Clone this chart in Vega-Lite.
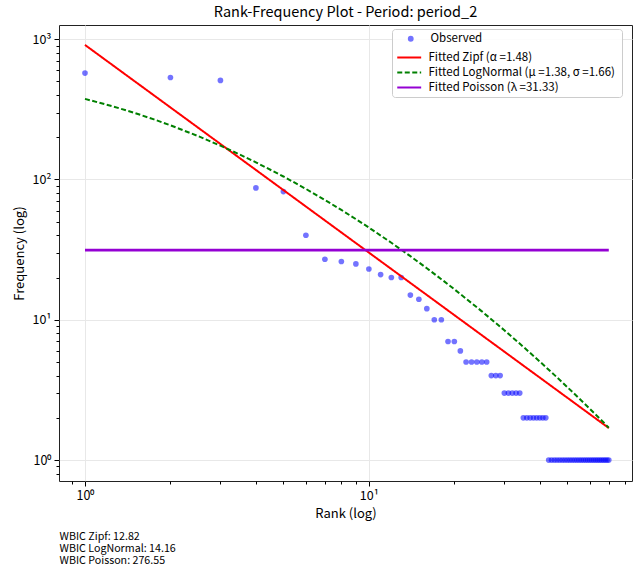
{
  "$schema": "https://vega.github.io/schema/vega-lite/v6.json",
  "autosize": {"type": "none"},
  "padding": {"left": 59, "top": 25, "right": 6, "bottom": 95},
  "width": 573,
  "height": 456,
  "background": "white",
  "config": {
    "font": "Noto Sans CJK JP",
    "view": {"stroke": "#222", "strokeWidth": 1},
    "axis": {"labelColor": "#000", "titleColor": "#000", "tickColor": "#000", "labelFontWeight": "normal", "titleFontWeight": "normal"},
    "legend": {"padding": 4, "labelFontSize": 11.5, "labelColor": "#000", "rowPadding": 0, "labelLimit": 400, "cornerRadius": 3}
  },
  "title": {
    "text": "Rank-Frequency Plot - Period: period_2",
    "anchor": "middle", "frame": "group", "fontSize": 14.5, "fontWeight": "normal", "color": "#000", "offset": 5
  },
  "datasets": {
    "observed": [
      {"rank": 1, "freq": 573, "series": "Observed"},
      {"rank": 2, "freq": 533, "series": "Observed"},
      {"rank": 3, "freq": 508, "series": "Observed"},
      {"rank": 4, "freq": 87, "series": "Observed"},
      {"rank": 5, "freq": 82, "series": "Observed"},
      {"rank": 6, "freq": 40, "series": "Observed"},
      {"rank": 7, "freq": 27, "series": "Observed"},
      {"rank": 8, "freq": 26, "series": "Observed"},
      {"rank": 9, "freq": 25, "series": "Observed"},
      {"rank": 10, "freq": 23, "series": "Observed"},
      {"rank": 11, "freq": 21, "series": "Observed"},
      {"rank": 12, "freq": 20, "series": "Observed"},
      {"rank": 13, "freq": 20, "series": "Observed"},
      {"rank": 14, "freq": 15, "series": "Observed"},
      {"rank": 15, "freq": 14, "series": "Observed"},
      {"rank": 16, "freq": 12, "series": "Observed"},
      {"rank": 17, "freq": 10, "series": "Observed"},
      {"rank": 18, "freq": 10, "series": "Observed"},
      {"rank": 19, "freq": 7, "series": "Observed"},
      {"rank": 20, "freq": 7, "series": "Observed"},
      {"rank": 21, "freq": 6, "series": "Observed"},
      {"rank": 22, "freq": 5, "series": "Observed"},
      {"rank": 23, "freq": 5, "series": "Observed"},
      {"rank": 24, "freq": 5, "series": "Observed"},
      {"rank": 25, "freq": 5, "series": "Observed"},
      {"rank": 26, "freq": 5, "series": "Observed"},
      {"rank": 27, "freq": 4, "series": "Observed"},
      {"rank": 28, "freq": 4, "series": "Observed"},
      {"rank": 29, "freq": 4, "series": "Observed"},
      {"rank": 30, "freq": 3, "series": "Observed"},
      {"rank": 31, "freq": 3, "series": "Observed"},
      {"rank": 32, "freq": 3, "series": "Observed"},
      {"rank": 33, "freq": 3, "series": "Observed"},
      {"rank": 34, "freq": 3, "series": "Observed"},
      {"rank": 35, "freq": 2, "series": "Observed"},
      {"rank": 36, "freq": 2, "series": "Observed"},
      {"rank": 37, "freq": 2, "series": "Observed"},
      {"rank": 38, "freq": 2, "series": "Observed"},
      {"rank": 39, "freq": 2, "series": "Observed"},
      {"rank": 40, "freq": 2, "series": "Observed"},
      {"rank": 41, "freq": 2, "series": "Observed"},
      {"rank": 42, "freq": 2, "series": "Observed"},
      {"rank": 43, "freq": 1, "series": "Observed"},
      {"rank": 44, "freq": 1, "series": "Observed"},
      {"rank": 45, "freq": 1, "series": "Observed"},
      {"rank": 46, "freq": 1, "series": "Observed"},
      {"rank": 47, "freq": 1, "series": "Observed"},
      {"rank": 48, "freq": 1, "series": "Observed"},
      {"rank": 49, "freq": 1, "series": "Observed"},
      {"rank": 50, "freq": 1, "series": "Observed"},
      {"rank": 51, "freq": 1, "series": "Observed"},
      {"rank": 52, "freq": 1, "series": "Observed"},
      {"rank": 53, "freq": 1, "series": "Observed"},
      {"rank": 54, "freq": 1, "series": "Observed"},
      {"rank": 55, "freq": 1, "series": "Observed"},
      {"rank": 56, "freq": 1, "series": "Observed"},
      {"rank": 57, "freq": 1, "series": "Observed"},
      {"rank": 58, "freq": 1, "series": "Observed"},
      {"rank": 59, "freq": 1, "series": "Observed"},
      {"rank": 60, "freq": 1, "series": "Observed"},
      {"rank": 61, "freq": 1, "series": "Observed"},
      {"rank": 62, "freq": 1, "series": "Observed"},
      {"rank": 63, "freq": 1, "series": "Observed"},
      {"rank": 64, "freq": 1, "series": "Observed"},
      {"rank": 65, "freq": 1, "series": "Observed"},
      {"rank": 66, "freq": 1, "series": "Observed"},
      {"rank": 67, "freq": 1, "series": "Observed"},
      {"rank": 68, "freq": 1, "series": "Observed"},
      {"rank": 69, "freq": 1, "series": "Observed"},
      {"rank": 70, "freq": 1, "series": "Observed"}
    ],
    "zipf": [
      {"rank": 1, "freq": 910, "series": "Fitted Zipf (α =1.48)"},
      {"rank": 70, "freq": 1.69, "series": "Fitted Zipf (α =1.48)"}
    ],
    "lognormal": [
      {"rank": 1, "freq": 375.2, "series": "Fitted LogNormal (μ =1.38,  σ =1.66)"},
      {"rank": 1.25, "freq": 332.6, "series": "Fitted LogNormal (μ =1.38,  σ =1.66)"},
      {"rank": 1.5, "freq": 297.4, "series": "Fitted LogNormal (μ =1.38,  σ =1.66)"},
      {"rank": 1.75, "freq": 268.0, "series": "Fitted LogNormal (μ =1.38,  σ =1.66)"},
      {"rank": 2, "freq": 243.3, "series": "Fitted LogNormal (μ =1.38,  σ =1.66)"},
      {"rank": 2.5, "freq": 203.9, "series": "Fitted LogNormal (μ =1.38,  σ =1.66)"},
      {"rank": 3, "freq": 174.1, "series": "Fitted LogNormal (μ =1.38,  σ =1.66)"},
      {"rank": 3.5, "freq": 151.0, "series": "Fitted LogNormal (μ =1.38,  σ =1.66)"},
      {"rank": 4, "freq": 132.5, "series": "Fitted LogNormal (μ =1.38,  σ =1.66)"},
      {"rank": 5, "freq": 105.0, "series": "Fitted LogNormal (μ =1.38,  σ =1.66)"},
      {"rank": 6, "freq": 85.66, "series": "Fitted LogNormal (μ =1.38,  σ =1.66)"},
      {"rank": 7, "freq": 71.44, "series": "Fitted LogNormal (μ =1.38,  σ =1.66)"},
      {"rank": 8, "freq": 60.62, "series": "Fitted LogNormal (μ =1.38,  σ =1.66)"},
      {"rank": 9, "freq": 52.17, "series": "Fitted LogNormal (μ =1.38,  σ =1.66)"},
      {"rank": 10, "freq": 45.42, "series": "Fitted LogNormal (μ =1.38,  σ =1.66)"},
      {"rank": 12, "freq": 35.39, "series": "Fitted LogNormal (μ =1.38,  σ =1.66)"},
      {"rank": 14, "freq": 28.39, "series": "Fitted LogNormal (μ =1.38,  σ =1.66)"},
      {"rank": 16, "freq": 23.30, "series": "Fitted LogNormal (μ =1.38,  σ =1.66)"},
      {"rank": 18, "freq": 19.46, "series": "Fitted LogNormal (μ =1.38,  σ =1.66)"},
      {"rank": 20, "freq": 16.50, "series": "Fitted LogNormal (μ =1.38,  σ =1.66)"},
      {"rank": 25, "freq": 11.48, "series": "Fitted LogNormal (μ =1.38,  σ =1.66)"},
      {"rank": 30, "freq": 8.419, "series": "Fitted LogNormal (μ =1.38,  σ =1.66)"},
      {"rank": 35, "freq": 6.417, "series": "Fitted LogNormal (μ =1.38,  σ =1.66)"},
      {"rank": 40, "freq": 5.037, "series": "Fitted LogNormal (μ =1.38,  σ =1.66)"},
      {"rank": 45, "freq": 4.046, "series": "Fitted LogNormal (μ =1.38,  σ =1.66)"},
      {"rank": 50, "freq": 3.312, "series": "Fitted LogNormal (μ =1.38,  σ =1.66)"},
      {"rank": 55, "freq": 2.754, "series": "Fitted LogNormal (μ =1.38,  σ =1.66)"},
      {"rank": 60, "freq": 2.320, "series": "Fitted LogNormal (μ =1.38,  σ =1.66)"},
      {"rank": 65, "freq": 1.977, "series": "Fitted LogNormal (μ =1.38,  σ =1.66)"},
      {"rank": 70, "freq": 1.701, "series": "Fitted LogNormal (μ =1.38,  σ =1.66)"}
    ],
    "poisson": [
      {"rank": 1, "freq": 31.33, "series": "Fitted Poisson (λ =31.33)"},
      {"rank": 70, "freq": 31.33, "series": "Fitted Poisson (λ =31.33)"}
    ]
  },
  "resolve": {"axis": {"x": "independent", "y": "independent"}},
  "layer": [
    {
      "data": {"name": "observed"},
      "mark": {"type": "point", "filled": true, "size": 32, "opacity": 0.55},
      "encoding": {
        "x": {"field": "rank", "type": "quantitative",
          "scale": {"type": "log", "domain": [0.81, 84.5], "nice": false},
          "axis": {"title": "Rank (log)", "orient": "bottom", "values": [1, 10],
            "labelExpr": "datum.value < 5 ? '10⁰' : '10¹'",
            "grid": true, "gridColor": "#e8e8e8", "domain": false,
            "tickSize": 5, "labelFontSize": 12.5, "titleFontSize": 13, "labelPadding": 3, "titlePadding": 6}},
        "y": {"field": "freq", "type": "quantitative",
          "scale": {"type": "log", "domain": [0.709, 1262], "nice": false},
          "axis": {"title": "Frequency (log)", "orient": "left", "values": [1, 10, 100, 1000],
            "labelExpr": "datum.value == 1 ? '10⁰' : datum.value == 10 ? '10¹' : datum.value == 100 ? '10²' : '10³'",
            "grid": true, "gridColor": "#e8e8e8", "domain": false,
            "tickSize": 5, "labelFontSize": 12.5, "titleFontSize": 13, "labelPadding": 3, "titlePadding": 5}},
        "fill": {"field": "series", "type": "nominal",
          "scale": {"domain": ["Observed"], "range": ["#0000ff"]},
          "legend": {"title": null, "orient": "none", "legendX": 342, "legendY": 4, "zindex": 2,
            "symbolType": "circle", "symbolSize": 34, "symbolOpacity": 0.55, "labelOffset": 14}}
      }
    },
    {
      "data": {"name": "zipf"},
      "mark": {"type": "line", "strokeWidth": 2},
      "encoding": {
        "x": {"field": "rank", "type": "quantitative",
          "scale": {"type": "log", "domain": [0.81, 84.5], "nice": false},
          "axis": {"title": null, "orient": "bottom", "values": [0.9, 2, 3, 4, 5, 6, 7, 8, 9, 20, 30, 40, 50, 60, 70, 80],
            "labels": false, "grid": false, "domain": false, "tickSize": 3}},
        "y": {"field": "freq", "type": "quantitative",
          "scale": {"type": "log", "domain": [0.709, 1262], "nice": false},
          "axis": {"title": null, "orient": "left", "values": [0.8, 0.9, 2, 3, 4, 5, 6, 7, 8, 9, 20, 30, 40, 50, 60, 70, 80, 90, 200, 300, 400, 500, 600, 700, 800, 900],
            "labels": false, "grid": false, "domain": false, "tickSize": 3}},
        "stroke": {"field": "series", "type": "nominal",
          "scale": {"domain": ["Fitted Zipf (α =1.48)", "Fitted LogNormal (μ =1.38,  σ =1.66)", "Fitted Poisson (λ =31.33)"],
            "range": ["#ff0000", "#008000", "#9400d3"]},
          "legend": {"title": " ", "titleFontSize": 12, "titlePadding": 3, "orient": "none", "legendX": 333, "legendY": 4, "zindex": 1,
            "symbolType": "M-1,0H1.9", "symbolSize": 272, "symbolStrokeWidth": 2, "labelOffset": 13.5,
            "fillColor": "rgba(255,255,255,0.85)", "strokeColor": "#cccccc"}},
        "strokeDash": {"field": "series", "type": "nominal",
          "scale": {"domain": ["Fitted Zipf (α =1.48)", "Fitted LogNormal (μ =1.38,  σ =1.66)", "Fitted Poisson (λ =31.33)"],
            "range": [[1, 0], [5, 2.5], [1, 0]]},
          "legend": {"title": " ", "titleFontSize": 12, "titlePadding": 3, "orient": "none", "legendX": 333, "legendY": 4, "zindex": 1,
            "symbolType": "M-1,0H1.9", "symbolSize": 272, "symbolStrokeWidth": 2, "labelOffset": 13.5,
            "fillColor": "rgba(255,255,255,0.85)", "strokeColor": "#cccccc"}}
      }
    },
    {
      "data": {"name": "lognormal"},
      "mark": {"type": "line", "strokeWidth": 2},
      "encoding": {
        "x": {"field": "rank", "type": "quantitative", "scale": {"type": "log", "domain": [0.81, 84.5], "nice": false},
          "axis": {"orient": "bottom", "values": [1], "labels": false, "ticks": false, "grid": false, "domain": false,
            "title": ["WBIC Zipf: 12.82", "WBIC LogNormal: 14.16", "WBIC Poisson: 276.55"],
            "titleAnchor": "start", "titleAlign": "left", "titlePadding": 50,
            "titleFontSize": 10.7, "titleLineHeight": 12}},
        "y": {"field": "freq", "type": "quantitative", "scale": {"type": "log", "domain": [0.709, 1262], "nice": false}, "axis": null},
        "stroke": {"field": "series", "type": "nominal"},
        "strokeDash": {"field": "series", "type": "nominal"}
      }
    },
    {
      "data": {"name": "poisson"},
      "mark": {"type": "line", "strokeWidth": 2.8},
      "encoding": {
        "x": {"field": "rank", "type": "quantitative", "scale": {"type": "log", "domain": [0.81, 84.5], "nice": false}, "axis": null},
        "y": {"field": "freq", "type": "quantitative", "scale": {"type": "log", "domain": [0.709, 1262], "nice": false}, "axis": null},
        "stroke": {"field": "series", "type": "nominal"},
        "strokeDash": {"field": "series", "type": "nominal"}
      }
    }
  ]
}
